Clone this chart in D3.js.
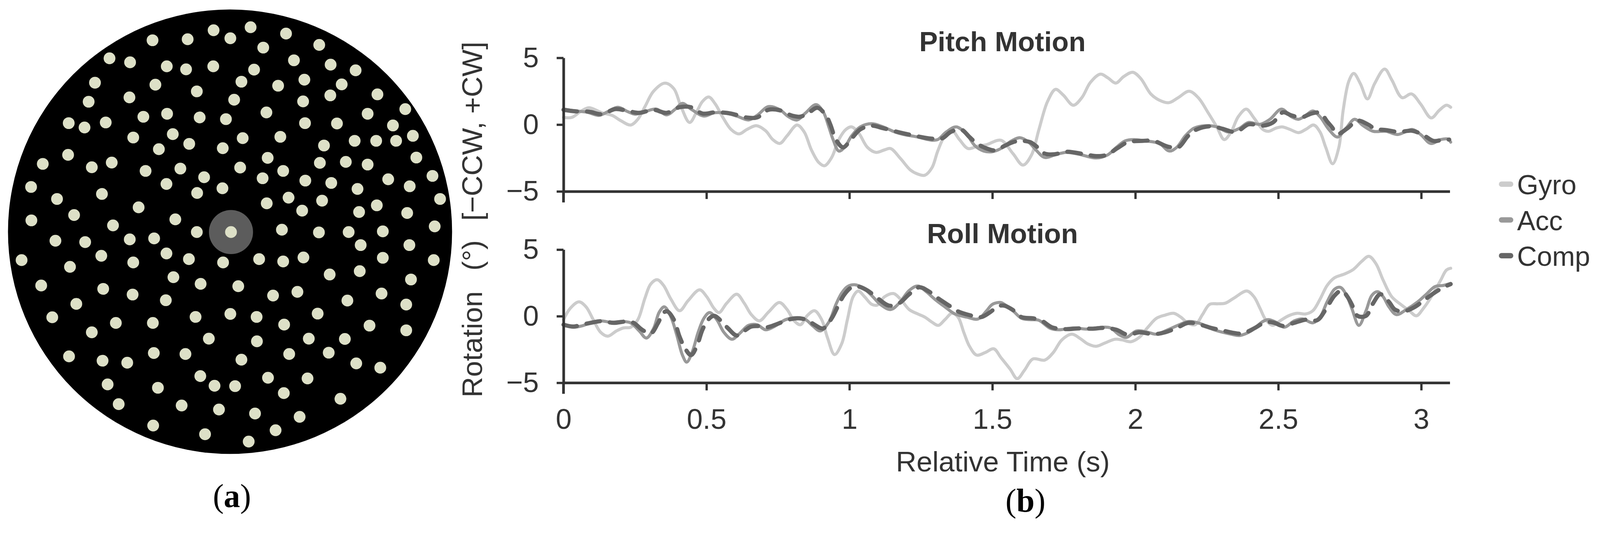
<!DOCTYPE html>
<html>
<head>
<meta charset="utf-8">
<script src="https://cdn.jsdelivr.net/npm/d3@7"></script>
<style>
  html, body { margin: 0; padding: 0; width: 100%; height: 100%; overflow: hidden; background: #fff; }
  svg { display: block; width: 100%; height: 100%; }
  text { font-family: "Liberation Sans", Arial, sans-serif; fill: #333; }
</style>
</head>
<body>
<svg id="chart"></svg>
<script>
// ---- data: panel (a) dot pattern, in pattern units (disk spans 28..1432 x 25..1355)
const patternBoundsX = [28, 1432];
const patternBoundsY = [25, 1355];
const fixationDot = [733, 691];
const dotsXY = [
  [795,78],[678,87],[907,97],[731,111],[596,114],[485,117],[1012,131],[835,139],
  [349,171],[932,177],[414,183],[1048,190],[530,195],[677,195],[591,204],[806,205],[1127,207],
  [965,235],[766,241],[303,244],[494,250],[882,253],[1083,249],[625,270],[1196,279],[1047,282],[412,288],[743,295],[961,300],[283,301],
  [1284,323],[845,333],[1165,337],[531,337],[456,346],[634,348],[717,353],[220,365],[337,363],[967,365],[1068,366],[270,378],[1245,372],
  [1308,403],[424,408],[549,398],[770,410],[889,406],[1124,418],[1192,418],[1255,418],[601,427],[1027,432],[707,440],[505,443],
  [218,460],[849,469],[1319,468],[138,487],[356,483],[293,497],[1014,484],[1096,481],[1165,489],[573,501],[762,498],[463,508],[898,508],
  [1370,523],[648,527],[833,530],[968,537],[1230,533],[1050,544],[529,547],[101,556],[706,560],[1298,554],[1133,562],[626,574],[325,577],[183,592],[915,588],[1021,597],[1394,592],[846,605],
  [441,617],[1194,611],[958,627],[1138,631],[237,640],[1290,634],[557,653],[102,656],[360,671],[1377,674],[625,691],[733,691],[894,684],[1011,692],[1105,691],[1213,689],[178,717],[272,721],[413,713],[490,710],
  [1143,730],[1297,730],[529,755],[323,762],[962,767],[600,772],[708,782],[822,772],[898,779],[1213,768],[1374,775],[71,775],[224,795],[424,782],
  [1140,808],[1045,818],[551,826],[1302,833],[637,846],[133,851],[756,853],[329,861],[943,870],[866,881],[422,878],[1209,875],
  [527,895],[1101,896],[244,906],[1287,908],[1007,935],[731,936],[621,945],[814,945],[168,946],[369,963],[486,963],[901,968],
  [1171,971],[293,991],[1287,985],[979,1010],[1093,1011],[663,1010],[815,1018],
  [489,1053],[589,1056],[1042,1052],[917,1056],[221,1063],[327,1076],[766,1073],[405,1082],[1129,1084],[1205,1097],
  [636,1122],[850,1127],[975,1129],[343,1147],[681,1151],[746,1152],[502,1157],[900,1173],
  [1079,1190],[378,1206],[577,1210],[695,1222],[809,1234],[950,1244],
  [487,1270],[651,1296],[874,1284],[789,1318]
];

// ---- data: panel (b), [time (s), rotation (deg)]
const xTicks = [0, 0.5, 1, 1.5, 2, 2.5, 3];
const yTicks = [-5, 0, 5];
const seriesNames = ["Gyro", "Acc", "Comp"];
const panelTitles = ["Pitch Motion", "Roll Motion"];

const pitchGyro = [
  [0,0.54],[0.029,0.54],[0.059,0.97],[0.089,1.26],[0.135,0.88],[0.170,0.69],[0.200,0.30],[0.235,-0.03],
  [0.260,0.40],[0.285,1.35],[0.315,2.50],[0.355,3.11],[0.386,2.69],[0.411,1.35],[0.441,0.16],[0.466,0.97],
  [0.486,1.73],[0.508,2.07],[0.531,1.54],[0.556,0.59],[0.586,-0.36],[0.614,-0.70],[0.642,-0.36],[0.675,-0.08],
  [0.707,-0.46],[0.732,-1.12],[0.757,-1.41],[0.782,-0.84],[0.817,-0.03],[0.842,-0.55],[0.867,-1.89],[0.893,-2.84],
  [0.913,-3.08],[0.938,-2.46],[0.963,-1.12],[0.988,-0.36],[1.008,-0.17],[1.033,-0.65],[1.063,-1.70],[1.093,-2.08],
  [1.123,-1.89],[1.144,-1.79],[1.179,-2.55],[1.214,-3.41],[1.239,-3.70],[1.264,-3.79],[1.289,-3.22],[1.309,-1.98],
  [1.334,-0.84],[1.359,-0.46],[1.385,-1.12],[1.415,-1.79],[1.450,-1.60],[1.480,-1.50],[1.530,-1.17],[1.572,-2.17],
  [1.607,-3.03],[1.637,-2.27],[1.663,-0.36],[1.693,1.73],[1.721,2.64],[1.748,2.21],[1.783,1.45],[1.813,2.02],
  [1.843,3.16],[1.878,3.78],[1.904,3.50],[1.932,3.11],[1.959,3.59],[1.991,3.92],[2.019,3.45],[2.054,2.30],
  [2.084,1.83],[2.117,1.64],[2.150,2.02],[2.188,2.50],[2.220,2.02],[2.255,0.88],[2.285,-0.17],[2.311,-1.12],
  [2.335,-0.55],[2.360,0.59],[2.388,1.16],[2.415,0.50],[2.446,-0.36],[2.466,-0.50],[2.491,-0.27],[2.513,-0.17],
  [2.541,-0.36],[2.571,-0.60],[2.596,-0.36],[2.624,-0.03],[2.646,-0.55],[2.666,-1.70],[2.690,-2.93],[2.712,-1.70],
  [2.727,1.07],[2.747,3.26],[2.764,3.83],[2.787,3.07],[2.812,1.92],[2.837,3.07],[2.872,4.16],[2.897,3.35],
  [2.933,2.02],[2.966,2.30],[2.998,1.54],[3.035,0.50],[3.063,1.07],[3.088,1.45],[3.103,1.30]
];
const pitchAcc = [
  [0,1.16],[0.044,1.02],[0.084,0.92],[0.124,0.69],[0.155,0.97],[0.190,1.30],[0.225,0.97],[0.250,0.78],
  [0.285,0.97],[0.325,1.16],[0.360,0.73],[0.391,1.16],[0.416,1.59],[0.446,1.16],[0.491,0.64],[0.526,0.88],
  [0.561,0.88],[0.606,0.64],[0.647,0.35],[0.677,0.69],[0.717,1.35],[0.757,1.11],[0.787,0.59],[0.817,0.35],
  [0.847,0.88],[0.883,1.50],[0.908,0.97],[0.928,-0.17],[0.943,-1.12],[0.963,-1.98],[0.983,-1.70],[1.008,-0.84],
  [1.038,-0.17],[1.078,0.07],[1.118,-0.17],[1.159,-0.55],[1.189,-0.74],[1.239,-0.93],[1.289,-1.17],[1.309,-1.12],
  [1.339,-0.55],[1.374,-0.17],[1.410,-0.74],[1.440,-1.60],[1.470,-1.98],[1.500,-2.03],[1.530,-1.79],[1.567,-1.22],
  [1.597,-0.98],[1.627,-1.31],[1.652,-1.89],[1.683,-2.46],[1.718,-2.27],[1.758,-2.08],[1.803,-2.22],[1.863,-2.50],
  [1.903,-2.27],[1.934,-1.70],[1.964,-1.22],[1.994,-1.12],[2.034,-1.22],[2.084,-1.41],[2.119,-1.98],[2.145,-1.70],
  [2.175,-0.84],[2.205,-0.27],[2.245,-0.08],[2.285,-0.17],[2.325,-0.55],[2.365,-0.27],[2.396,0.16],[2.436,0.02],
  [2.471,0.40],[2.511,1.16],[2.546,0.59],[2.571,0.40],[2.596,0.69],[2.621,1.02],[2.646,0.59],[2.677,-0.36],
  [2.707,-0.93],[2.737,-0.27],[2.767,0.40],[2.797,-0.08],[2.832,-0.50],[2.877,-0.50],[2.918,-0.74],[2.968,-0.36],
  [2.998,-0.74],[3.033,-1.41],[3.068,-1.12],[3.093,-1.08],[3.103,-1.31]
];
const pitchComp = [
  [0,1.11],[0.044,0.99],[0.089,0.97],[0.135,0.78],[0.180,1.16],[0.225,1.02],[0.265,0.88],[0.315,1.11],
  [0.360,0.88],[0.406,1.30],[0.446,1.30],[0.486,0.83],[0.531,0.92],[0.586,0.83],[0.637,0.54],[0.677,0.54],
  [0.717,1.11],[0.757,1.07],[0.797,0.69],[0.827,0.59],[0.857,0.88],[0.888,1.26],[0.918,0.69],[0.933,0.02],
  [0.953,-1.12],[0.978,-1.70],[1.008,-1.03],[1.038,-0.36],[1.078,-0.08],[1.118,-0.27],[1.169,-0.55],[1.219,-0.79],
  [1.279,-1.03],[1.324,-1.03],[1.354,-0.55],[1.390,-0.36],[1.420,-0.93],[1.440,-1.31],[1.470,-1.70],[1.510,-1.93],
  [1.542,-1.60],[1.572,-1.31],[1.597,-1.22],[1.632,-1.31],[1.658,-1.70],[1.683,-2.17],[1.718,-2.22],[1.758,-2.03],
  [1.823,-2.22],[1.863,-2.36],[1.899,-2.27],[1.939,-1.74],[1.974,-1.31],[2.024,-1.22],[2.064,-1.22],[2.114,-1.65],
  [2.150,-1.70],[2.185,-0.84],[2.215,-0.36],[2.265,-0.12],[2.305,-0.31],[2.345,-0.55],[2.365,-0.41],[2.396,0.02],
  [2.446,-0.08],[2.481,0.16],[2.516,0.92],[2.546,0.69],[2.581,0.54],[2.616,0.83],[2.646,0.88],[2.672,0.21],
  [2.687,-0.17],[2.707,-0.70],[2.742,-0.27],[2.777,0.30],[2.817,-0.03],[2.837,-0.31],[2.877,-0.41],[2.922,-0.55],
  [2.968,-0.46],[3.008,-0.79],[3.043,-1.22],[3.078,-1.12],[3.098,-1.12]
];
const rollGyro = [
  [0,-0.26],[0.024,0.60],[0.054,1.08],[0.079,0.70],[0.104,-0.26],[0.130,-1.21],[0.155,-1.50],[0.185,-1.11],
  [0.210,-0.88],[0.235,-0.83],[0.260,-0.26],[0.285,1.36],[0.305,2.41],[0.328,2.74],[0.350,2.31],[0.376,1.27],
  [0.406,0.41],[0.436,1.17],[0.476,1.98],[0.501,1.46],[0.526,0.60],[0.544,0.27],[0.571,0.98],[0.606,1.65],
  [0.632,0.98],[0.657,0.12],[0.685,-0.35],[0.717,0.31],[0.755,1.03],[0.782,0.50],[0.807,-0.35],[0.829,-0.64],
  [0.852,0.03],[0.878,0.41],[0.903,-0.26],[0.923,-1.59],[0.948,-2.88],[0.973,-2.07],[0.993,-0.26],[1.013,1.46],
  [1.031,1.89],[1.053,1.46],[1.078,0.89],[1.098,0.84],[1.123,1.46],[1.154,1.70],[1.179,1.27],[1.209,0.50],
  [1.239,0.17],[1.264,-0.07],[1.289,-0.45],[1.311,-0.69],[1.334,-0.26],[1.359,0.22],[1.380,-0.07],[1.400,-1.21],
  [1.420,-2.26],[1.445,-2.92],[1.475,-2.73],[1.505,-2.45],[1.530,-3.11],[1.562,-3.97],[1.587,-4.69],[1.612,-4.07],
  [1.642,-3.21],[1.683,-3.30],[1.713,-2.73],[1.743,-1.78],[1.778,-1.35],[1.808,-1.69],[1.833,-2.07],[1.863,-2.26],
  [1.893,-2.02],[1.929,-1.73],[1.954,-1.78],[1.984,-1.92],[2.014,-1.59],[2.044,-0.83],[2.074,-0.16],[2.104,0.08],
  [2.134,0.22],[2.159,-0.07],[2.185,-0.54],[2.210,-0.64],[2.235,0.12],[2.260,0.89],[2.290,0.93],[2.315,0.98],
  [2.345,1.36],[2.390,1.89],[2.415,1.46],[2.436,0.60],[2.456,-0.26],[2.481,-0.69],[2.506,-0.35],[2.536,0.03],
  [2.566,0.22],[2.596,0.17],[2.621,0.41],[2.646,1.27],[2.671,2.31],[2.697,2.89],[2.732,3.17],[2.762,3.50],
  [2.792,4.12],[2.817,4.50],[2.842,3.93],[2.867,2.70],[2.897,1.46],[2.928,0.89],[2.958,0.41],[2.983,0.03],
  [3.008,0.60],[3.038,1.55],[3.068,2.70],[3.088,3.46],[3.103,3.60]
];
const rollAcc = [
  [0,-0.64],[0.034,-0.83],[0.064,-0.73],[0.094,-0.50],[0.130,-0.35],[0.165,-0.45],[0.205,-0.40],[0.235,-0.50],
  [0.265,-1.11],[0.290,-1.64],[0.315,-0.92],[0.335,0.31],[0.353,0.70],[0.376,-0.07],[0.396,-1.40],[0.416,-2.92],
  [0.431,-3.45],[0.451,-2.64],[0.471,-1.21],[0.491,-0.16],[0.511,0.27],[0.536,-0.26],[0.561,-1.21],[0.589,-1.73],
  [0.616,-1.30],[0.647,-0.69],[0.677,-0.64],[0.707,-1.02],[0.737,-0.78],[0.777,-0.26],[0.817,-0.11],[0.847,-0.26],
  [0.872,-0.73],[0.898,-1.11],[0.928,-0.45],[0.953,0.89],[0.973,1.74],[0.993,2.22],[1.018,2.36],[1.048,2.12],
  [1.078,1.55],[1.108,0.89],[1.144,0.50],[1.174,0.98],[1.209,1.93],[1.239,2.27],[1.269,1.84],[1.299,1.27],
  [1.334,0.70],[1.369,0.17],[1.410,-0.07],[1.450,-0.21],[1.480,0.41],[1.500,0.89],[1.530,1.03],[1.542,0.89],
  [1.572,0.41],[1.602,-0.16],[1.632,-0.26],[1.662,-0.30],[1.703,-0.92],[1.733,-1.02],[1.783,-0.88],[1.833,-0.97],
  [1.883,-0.83],[1.913,-0.88],[1.944,-1.40],[1.969,-1.59],[2.004,-1.11],[2.044,-1.21],[2.074,-1.35],[2.114,-1.02],
  [2.154,-0.64],[2.185,-0.40],[2.225,-0.54],[2.275,-1.02],[2.335,-1.35],[2.365,-1.45],[2.405,-1.11],[2.446,-0.40],
  [2.466,-0.26],[2.496,-0.50],[2.521,-0.83],[2.556,-0.35],[2.586,-0.21],[2.621,-0.50],[2.646,-0.07],[2.671,1.08],
  [2.697,2.03],[2.717,2.17],[2.737,1.65],[2.757,0.60],[2.782,-0.69],[2.807,0.41],[2.827,1.55],[2.847,1.84],
  [2.867,1.46],[2.887,0.70],[2.913,0.12],[2.948,0.50],[2.988,1.08],[3.018,1.65],[3.048,2.22],[3.078,2.31],
  [3.103,2.46]
];
const rollComp = [
  [0,-0.64],[0.034,-0.78],[0.064,-0.64],[0.094,-0.50],[0.135,-0.37],[0.175,-0.50],[0.220,-0.40],[0.245,-0.50],
  [0.275,-1.02],[0.305,-1.30],[0.330,-0.54],[0.350,0.27],[0.363,0.36],[0.386,-0.26],[0.406,-1.54],[0.426,-2.45],
  [0.446,-2.92],[0.466,-2.26],[0.486,-1.02],[0.506,-0.26],[0.526,0.03],[0.551,-0.35],[0.576,-0.92],[0.606,-1.45],
  [0.632,-1.11],[0.657,-0.78],[0.687,-0.75],[0.712,-0.83],[0.747,-0.59],[0.787,-0.26],[0.827,-0.16],[0.857,-0.35],
  [0.878,-0.64],[0.908,-0.92],[0.938,-0.16],[0.963,0.89],[0.983,1.65],[1.008,2.17],[1.033,2.22],[1.063,1.93],
  [1.098,1.36],[1.139,0.79],[1.174,0.98],[1.209,1.65],[1.244,2.17],[1.279,1.84],[1.309,1.36],[1.349,0.79],
  [1.380,0.36],[1.420,0.08],[1.460,-0.07],[1.490,0.27],[1.520,0.74],[1.542,0.79],[1.572,0.46],[1.602,-0.07],
  [1.642,-0.16],[1.673,-0.35],[1.708,-0.83],[1.753,-0.97],[1.803,-0.92],[1.848,-0.94],[1.893,-0.88],[1.934,-1.02],
  [1.974,-1.40],[2.014,-1.21],[2.064,-1.35],[2.104,-1.21],[2.145,-0.88],[2.185,-0.50],[2.225,-0.62],[2.265,-0.88],
  [2.305,-1.07],[2.345,-1.26],[2.375,-1.30],[2.415,-0.92],[2.456,-0.45],[2.486,-0.50],[2.516,-0.73],[2.556,-0.50],
  [2.596,-0.26],[2.636,-0.30],[2.666,0.50],[2.697,1.55],[2.722,1.93],[2.742,1.46],[2.757,0.89],[2.777,0.03],
  [2.807,0.03],[2.832,0.98],[2.857,1.65],[2.887,1.08],[2.908,0.50],[2.938,0.36],[2.978,0.70],[3.008,1.17],
  [3.048,1.79],[3.078,2.17],[3.103,2.41]
];

drawChart();

function drawChart() {
  const width = 4208;
  const height = 1384;
  const ink = "#333";
  const seriesColors = ["#cccccc", "#999999", "#666666"];
  const seriesWidths = [8, 8, 11];

  // fixed drawing size, scaled to whatever the window really is (pinned top-left)
  const svg = d3.select("#chart")
                .attr("viewBox", `0 0 ${width} ${height}`)
                .attr("preserveAspectRatio", "xMinYMin meet");

  // ---------- panel (a): dot stimulus
  const disk = { cx: 605, cy: 609, r: 584 };
  const xPat = d3.scaleLinear().domain(patternBoundsX).range([disk.cx - disk.r, disk.cx + disk.r]);
  const yPat = d3.scaleLinear().domain(patternBoundsY).range([disk.cy - disk.r, disk.cy + disk.r]);

  const panelA = svg.append("g").attr("id", "panel-a");
  panelA.append("circle")
        .attr("cx", disk.cx).attr("cy", disk.cy).attr("r", disk.r)
        .attr("fill", "#000");
  panelA.append("circle")
        .attr("cx", xPat(fixationDot[0])).attr("cy", yPat(fixationDot[1])).attr("r", 58)
        .attr("fill", "#5c5c5c");
  panelA.selectAll("circle.dot")
        .data(dotsXY)
        .enter()
        .append("circle")
        .attr("class", "dot")
        .attr("cx", d => xPat(d[0]))
        .attr("cy", d => yPat(d[1]))
        .attr("r", 15.5)
        .attr("fill", "#dde0c7");

  // ---------- panel (b): two stacked line charts
  const x = d3.scaleLinear().domain([0, 3.1]).range([1482, 3813]);
  const panels = [
    { title: panelTitles[0], data: [pitchGyro, pitchAcc, pitchComp], y: d3.scaleLinear().domain([-5, 5]).range([503, 152]), labels: false },
    { title: panelTitles[1], data: [rollGyro, rollAcc, rollComp],   y: d3.scaleLinear().domain([-5, 5]).range([1006, 656]), labels: true }
  ];

  panels.forEach(p => {
    const g = svg.append("g");

    const line = d3.line()
                   .x(d => x(d[0]))
                   .y(d => p.y(d[1]))
                   .curve(d3.curveCatmullRom.alpha(0.5));

    p.data.forEach((series, i) => {
      g.append("path")
       .datum(series)
       .attr("d", line)
       .attr("fill", "none")
       .attr("stroke", seriesColors[i])
       .attr("stroke-width", seriesWidths[i])
       .attr("stroke-linejoin", "round")
       .attr("stroke-linecap", "round")
       .attr("stroke-dasharray", i === 2 ? "36,26" : null);
    });

    const yAxis = d3.axisLeft(p.y)
                    .tickValues(yTicks)
                    .tickSize(18)
                    .tickSizeOuter(0)
                    .tickPadding(47);
    const yg = g.append("g")
                .attr("transform", `translate(${x(0)},0)`)
                .call(yAxis);

    const xAxis = d3.axisBottom(x)
                    .tickValues(xTicks)
                    .tickSize(20)
                    .tickSizeOuter(0)
                    .tickPadding(48)
                    .tickFormat(p.labels ? d3.format("") : "");
    const xg = g.append("g")
                .attr("transform", `translate(0,${p.y(-5)})`)
                .call(xAxis);

    [yg, xg].forEach(ax => {
      ax.select(".domain").attr("stroke", ink).attr("stroke-width", 7);
      ax.selectAll(".tick line").attr("stroke", ink).attr("stroke-width", 6);
      ax.selectAll(".tick text")
        .attr("fill", ink)
        .style("font-size", "75px")
        .style("font-family", "'Liberation Sans', Arial, sans-serif");
    });

    // the vertical axis runs a little past the bottom axis
    g.append("line")
     .attr("x1", x(0)).attr("x2", x(0))
     .attr("y1", p.y(-5)).attr("y2", p.y(-5) + 29)
     .attr("stroke", ink).attr("stroke-width", 7);

    g.append("text")
     .attr("x", (x.range()[0] + x.range()[1]) / 2 - 11)
     .attr("y", p.y(5) - 17)
     .attr("text-anchor", "middle")
     .style("font-size", "73px")
     .style("font-weight", "bold")
     .text(p.title);
  });

  // shared axis titles
  svg.append("text")
     .attr("x", (x.range()[0] + x.range()[1]) / 2 - 10)
     .attr("y", 1239)
     .attr("text-anchor", "middle")
     .style("font-size", "75px")
     .text("Relative Time (s)");

  const yLabel = svg.append("text")
     .attr("transform", "translate(1268,577) rotate(-90)")
     .attr("text-anchor", "middle")
     .style("font-size", "75px");
  yLabel.append("tspan").text("Rotation");
  yLabel.append("tspan").attr("dx", 54).text("(°)");
  yLabel.append("tspan").attr("dx", 51).text("[−CCW, +CW]");

  // legend
  const legend = svg.append("g").attr("id", "legend");
  seriesNames.forEach((name, i) => {
    const base = 511 + i * 94;
    legend.append("line")
          .attr("x1", 3949).attr("x2", 3973)
          .attr("y1", base - 27).attr("y2", base - 27)
          .attr("stroke", seriesColors[i])
          .attr("stroke-width", 14)
          .attr("stroke-linecap", "round");
    legend.append("text")
          .attr("x", 3990)
          .attr("y", base)
          .style("font-size", "72px")
          .text(name);
  });

  // sub-figure letters
  const letters = [["a", 610, 1332], ["b", 2697, 1345]];
  letters.forEach(([letter, lx, ly]) => {
    const t = svg.append("text")
                 .attr("x", lx).attr("y", ly)
                 .attr("text-anchor", "middle")
                 .style("font-family", "'Liberation Serif', 'Times New Roman', serif")
                 .style("font-size", "86px")
                 .style("fill", "#000");
    t.append("tspan").text("(");
    t.append("tspan").style("font-weight", "bold").text(letter);
    t.append("tspan").text(")");
  });
}
</script>
</body>
</html>
